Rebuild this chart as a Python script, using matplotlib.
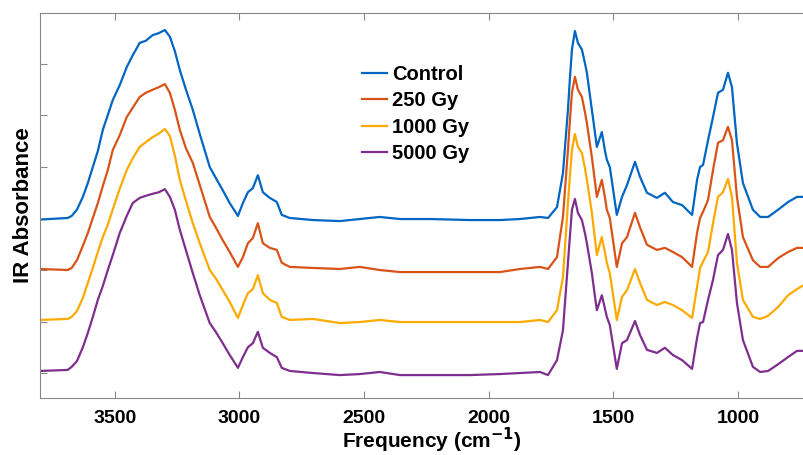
import matplotlib
matplotlib.use('Agg')
import matplotlib.pyplot as plt

# wavenumber grid (cm-1)
wavenumber = [3800, 3689, 3673, 3652, 3628, 3608, 3588, 3568, 3548, 3528,
              3508, 3480, 3452, 3428, 3400, 3376, 3348, 3323, 3299, 3279,
              3259, 3239, 3215, 3187, 3159, 3119, 3095, 3067, 3039, 3006,
              2986, 2966, 2946, 2926, 2906, 2878, 2850, 2830, 2798, 2705,
              2597, 2517, 2437, 2356, 2236, 2075, 1955, 1874, 1794, 1762,
              1726, 1702, 1682, 1674, 1666, 1654, 1642, 1626, 1614, 1606,
              1586, 1574, 1566, 1546, 1534, 1526, 1514, 1486, 1465, 1445,
              1413, 1393, 1365, 1325, 1293, 1261, 1224, 1184, 1164, 1152,
              1140, 1120, 1100, 1080, 1060, 1040, 1024, 1004, 980, 940,
              911, 879, 839, 799, 763, 735]

control = [-0.002, 0.001, 0.005, 0.017, 0.042, 0.069, 0.100, 0.131, 0.172, 0.201,
           0.230, 0.259, 0.294, 0.317, 0.341, 0.345, 0.356, 0.360, 0.366, 0.353,
           0.325, 0.288, 0.251, 0.211, 0.164, 0.100, 0.079, 0.055, 0.030, 0.005,
           0.030, 0.051, 0.059, 0.084, 0.051, 0.040, 0.032, 0.007, 0.001, -0.003,
           -0.005, -0.001, 0.003, -0.001, -0.001, -0.003, -0.003, -0.001, 0.003, 0.001,
           0.022, 0.088, 0.211, 0.273, 0.328, 0.364, 0.341, 0.328, 0.302, 0.283,
           0.211, 0.168, 0.139, 0.168, 0.133, 0.114, 0.100, 0.007, 0.042, 0.065,
           0.110, 0.081, 0.050, 0.040, 0.050, 0.032, 0.026, 0.007, 0.075, 0.100,
           0.104, 0.152, 0.197, 0.244, 0.250, 0.283, 0.255, 0.146, 0.069, 0.017,
           0.003, 0.003, 0.017, 0.032, 0.042, 0.042]

gy250 = [0.002, 0.000, 0.004, 0.019, 0.047, 0.072, 0.101, 0.130, 0.163, 0.194,
         0.233, 0.262, 0.297, 0.315, 0.336, 0.344, 0.350, 0.355, 0.361, 0.344,
         0.311, 0.272, 0.237, 0.208, 0.165, 0.103, 0.083, 0.058, 0.035, 0.006,
         0.025, 0.052, 0.062, 0.091, 0.052, 0.043, 0.039, 0.014, 0.006, 0.004,
         0.002, 0.006, 0.000, -0.004, -0.004, -0.004, -0.004, 0.002, 0.006, 0.002,
         0.025, 0.103, 0.233, 0.291, 0.344, 0.375, 0.350, 0.336, 0.307, 0.285,
         0.219, 0.173, 0.142, 0.175, 0.142, 0.117, 0.101, 0.006, 0.052, 0.064,
         0.111, 0.083, 0.049, 0.039, 0.043, 0.035, 0.025, 0.006, 0.072, 0.101,
         0.113, 0.136, 0.194, 0.247, 0.252, 0.278, 0.252, 0.142, 0.064, 0.019,
         0.006, 0.006, 0.023, 0.035, 0.043, 0.043]

gy1000 = [0.003, 0.005, 0.009, 0.020, 0.046, 0.075, 0.104, 0.135, 0.164, 0.188,
          0.218, 0.258, 0.294, 0.317, 0.339, 0.348, 0.358, 0.365, 0.374, 0.360,
          0.322, 0.275, 0.235, 0.191, 0.152, 0.100, 0.084, 0.061, 0.038, 0.007,
          0.032, 0.055, 0.063, 0.090, 0.055, 0.042, 0.036, 0.009, 0.003, 0.005,
          -0.003, -0.001, 0.003, -0.001, -0.001, -0.001, -0.001, -0.001, 0.003, -0.001,
          0.022, 0.086, 0.230, 0.283, 0.333, 0.364, 0.339, 0.327, 0.298, 0.275,
          0.211, 0.162, 0.129, 0.164, 0.135, 0.114, 0.094, 0.003, 0.048, 0.061,
          0.102, 0.075, 0.042, 0.032, 0.038, 0.032, 0.022, 0.007, 0.067, 0.104,
          0.116, 0.135, 0.191, 0.242, 0.251, 0.277, 0.242, 0.114, 0.042, 0.009,
          0.005, 0.011, 0.028, 0.051, 0.063, 0.071]

gy5000 = [0.004, 0.006, 0.012, 0.023, 0.050, 0.078, 0.109, 0.142, 0.169, 0.200,
          0.229, 0.272, 0.305, 0.330, 0.340, 0.344, 0.348, 0.351, 0.357, 0.342,
          0.317, 0.278, 0.239, 0.194, 0.151, 0.097, 0.080, 0.058, 0.035, 0.010,
          0.031, 0.050, 0.058, 0.080, 0.049, 0.039, 0.031, 0.010, 0.004, 0.000,
          -0.004, -0.002, 0.002, -0.004, -0.004, -0.004, -0.002, 0.000, 0.002, -0.004,
          0.025, 0.083, 0.214, 0.266, 0.317, 0.338, 0.311, 0.297, 0.272, 0.252,
          0.194, 0.150, 0.122, 0.151, 0.126, 0.109, 0.093, 0.008, 0.058, 0.064,
          0.101, 0.074, 0.045, 0.039, 0.049, 0.035, 0.025, 0.008, 0.068, 0.097,
          0.099, 0.142, 0.181, 0.229, 0.239, 0.270, 0.239, 0.136, 0.064, 0.012,
          0.002, 0.004, 0.017, 0.031, 0.043, 0.043]

labels = ['Control', '250 Gy', '1000 Gy', '5000 Gy']
offsets = [0.3, 0.2, 0.1, 0.0]
colors = ['#0066C2', '#D95319', '#FDAA00', '#7E2F8E']

plt.rcParams['font.family'] = ['Liberation Sans', 'DejaVu Sans']
plt.rcParams['font.weight'] = 'bold'

fig = plt.figure(figsize=(8.04, 4.55), dpi=100)
ax = fig.add_axes([40 / 804, 1 - 398 / 455, 764 / 804, 385 / 455])

for spec, off, col, lab in zip([control, gy250, gy1000, gy5000], offsets, colors, labels):
    ax.plot(wavenumber, [v + off for v in spec], color=col, lw=1.6, label=lab)

ax.set_xlim(3800, 735)
ax.set_ylim(-0.0485, 0.699)
ax.set_xticks([3500, 3000, 2500, 2000, 1500, 1000])
ax.set_yticks([0, 0.1, 0.2, 0.3, 0.4, 0.5, 0.6])
ax.set_yticklabels([])
ax.tick_params(axis='both', direction='in', length=5, width=0.8, color='#888888',
               labelsize=14, top=True, right=False)
ax.tick_params(axis='x', pad=8.5)
for s in ['left', 'bottom', 'top']:
    ax.spines[s].set_color('#888888')
    ax.spines[s].set_linewidth(0.8)
ax.spines['right'].set_visible(False)

# x label placed by its baseline, like the original
fig.text(432 / 804, 7 / 455, 'Frequency (cm$^{\\mathbf{-1}}$)', fontsize=15,
         fontweight='bold', ha='center', va='baseline')
ax.set_ylabel('IR Absorbance', fontsize=16, fontweight='bold', labelpad=0.5)

ax.legend(loc='upper left', bbox_to_anchor=(0.4215, 0.8645), frameon=False,
          fontsize=14.5, handlelength=1.25, handletextpad=0.25, labelspacing=0.36,
          borderpad=0, borderaxespad=0)

fig.savefig('out.png', dpi=100)
